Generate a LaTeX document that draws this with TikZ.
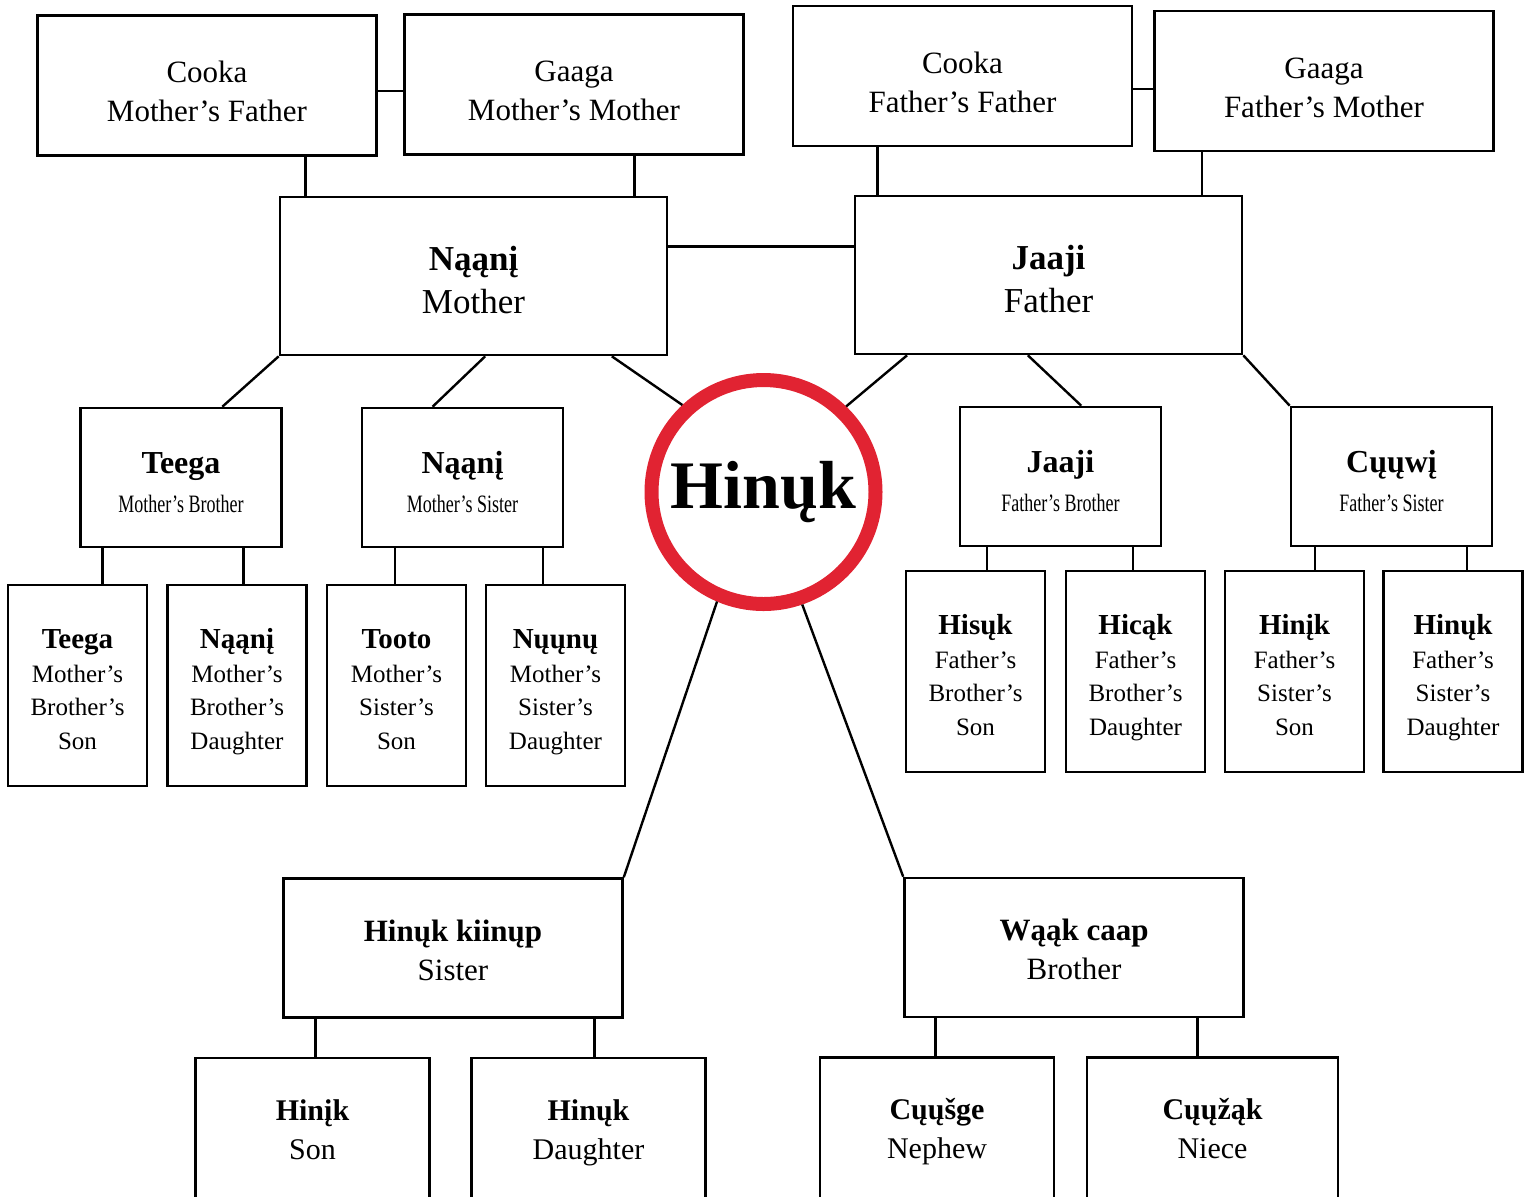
\documentclass[tikz,border=0pt]{standalone}
\usepackage{fontspec}
\setmainfont{Liberation Serif}
\newfontfamily\narrowfont[FakeStretch=0.72]{Liberation Serif}
\usetikzlibrary{calc}
\definecolor{ringred}{RGB}{225,35,50}
\tikzset{%
	every kin/.style={
		rectangle,
		draw,
		line width=1.3pt,
		fill=white,
		align=center,
		inner sep=0pt,
		text depth=0pt
	},
	kin grand/.style={minimum width=169.5pt, minimum height=70pt, text height=36.2pt, font=\fontsize{15.5}{19.5}\selectfont},
	kin parent/.style={minimum width=193.5pt, minimum height=79pt, text height=37.1pt, font=\fontsize{17.5}{21.5}\selectfont},
	kin aunt/.style={minimum width=100.5pt, minimum height=69.5pt, text height=34.6pt, font=\fontsize{16}{19.5}\selectfont},
	kin cousin/.style={minimum width=69.5pt, minimum height=100.5pt, text height=63.9pt, font=\fontsize{12.5}{16.75}\selectfont},
	kin sibling/.style={minimum width=169.5pt, minimum height=69.5pt, text height=32.2pt, font=\fontsize{15.5}{19.5}\selectfont},
	kin child/.style={minimum width=117pt, minimum height=70.5pt, text height=30.9pt, font=\fontsize{15}{19.5}\selectfont},
	ego/.style={
		circle,
		draw=ringred,
		line width=7pt,
		minimum size=112pt,
		inner sep=0pt,
		font=\fontsize{34}{34}\selectfont\bfseries
	},
	link/.style={line width=1.2pt}
}
\newcommand\auntrel[1]{{\narrowfont\fontsize{12.5}{19.5}\selectfont #1}}
\newcommand\cousinname[1]{{\fontsize{14.5}{16.75}\selectfont\bfseries #1}}

\begin{document}
\begin{tikzpicture}[x=0.5pt, y=-0.5pt]
	\useasboundingbox (0,0) rectangle (1530,1196);
	
	\foreach \n/\x/\y/\txt in {mf/207/85.5/Cooka\\Mother’s Father, mm/574/84.5/Gaaga\\Mother’s Mother, ff/962.5/76/Cooka\\Father’s Father, fm/1324/81/Gaaga\\Father’s Mother}
	\node [every kin, kin grand] (\n) at (\x,\y) {\txt};
	
	\foreach \n/\x/\y/\txt in {mother/473.5/276/{\bfseries Nąąnį}\\Mother, father/1048.5/275/{\bfseries Jaaji}\\Father}
	\node [every kin, kin parent] (\n) at (\x,\y) {\txt};
	
	\foreach \n/\x/\y/\txt in {mb/181/477.5/{\bfseries Teega}\\\auntrel{Mother’s Brother}, ms/462.5/477.5/{\bfseries Nąąnį}\\\auntrel{Mother’s Sister}, fb/1060.5/476.5/{\bfseries Jaaji}\\\auntrel{Father’s Brother}, fs/1391.5/476.5/{\bfseries Cųųwį}\\\auntrel{Father’s Sister}}
	\node [every kin, kin aunt] (\n) at (\x,\y) {\txt};
	
	\foreach \n/\x/\y/\txt in {c1/77.5/685.5/\cousinname{Teega}\\Mother’s\\Brother’s\\Son, c2/237/685.5/\cousinname{Nąąnį}\\Mother’s\\Brother’s\\Daughter, c3/396.5/685.5/\cousinname{Tooto}\\Mother’s\\Sister’s\\Son, c4/555.5/685.5/\cousinname{Nųųnų}\\Mother’s\\Sister’s\\Daughter, c5/975.5/671.5/\cousinname{Hisųk}\\Father’s\\Brother’s\\Son, c6/1135.5/671.5/\cousinname{Hicąk}\\Father’s\\Brother’s\\Daughter, c7/1294.5/671.5/\cousinname{Hinįk}\\Father’s\\Sister’s\\Son, c8/1453/671.5/\cousinname{Hinųk}\\Father’s\\Sister’s\\Daughter}
	\node [every kin, kin cousin] (\n) at (\x,\y) {\txt};
	
	\node [ego] (ego) at (763.5,492) {Hinųk};
	
	\node [every kin, kin sibling] (sis) at (453,948) {{\bfseries Hinųk kiinųp}\\Sister};
	\node [every kin, kin sibling] (bro) at (1074,947.5) {{\bfseries Wąąk caap}\\Brother};
	
	\node [every kin, kin child] (son) at (312.5,1128.5) {{\bfseries Hinįk}\\Son};
	\node [every kin, kin child] (dau) at (588.5,1128.5) {{\bfseries Hinųk}\\Daughter};
	\node [every kin, kin child] (nep) at (937,1128) {{\bfseries Cųųšge}\\Nephew};
	\node [every kin, kin child, minimum width=125.5pt] (nie) at (1212.5,1128) {{\bfseries Cųųžąk}\\Niece};
	
	% couples
	\foreach \l/\r/\f in {mf/mm/0.54, ff/fm/0.593, mother/father/0.316} {
		\coordinate (tie) at ($(\l.north east)!\f!(\l.south east)$);
		\draw [link] (tie) -- (tie -| \r.west);
	}
	
	% straight drops
	\foreach \up/\down/\f in {mf/mother/0.788, mm/mother/0.677, ff/father/0.251, fm/father/0.142, mb/c1/0.114, mb/c2/0.807, ms/c3/0.169, ms/c4/0.896, fb/c5/0.139, fb/c6/0.856, fs/c7/0.124, fs/c8/0.871, sis/son/0.098, sis/dau/0.914, bro/nep/0.094, bro/nie/0.862} {
		\coordinate (drop) at ($(\up.south west)!\f!(\up.south east)$);
		\draw [link] (drop) -- (drop |- \down.north);
	}
	
	% slanted links
	\draw [link] (mother.south west) -- ($(mb.north west)!0.703!(mb.north east)$);
	\draw [link] ($(mother.south west)!0.53!(mother.south east)$) -- ($(ms.north west)!0.353!(ms.north east)$);
	\draw [link] ($(mother.south west)!0.855!(mother.south east)$) -- (ego.133.8);
	\draw [link] ($(father.south west)!0.137!(father.south east)$) -- (ego.46.9);
	\draw [link] ($(father.south west)!0.447!(father.south east)$) -- ($(fb.north west)!0.602!(fb.north east)$);
	\draw [link] (father.south east) -- (fs.north west);
	\draw [link] (ego.247.4) -- (sis.north east);
	\draw [link] (ego.-71.2) -- (bro.north west);
	
\end{tikzpicture}
\end{document}
